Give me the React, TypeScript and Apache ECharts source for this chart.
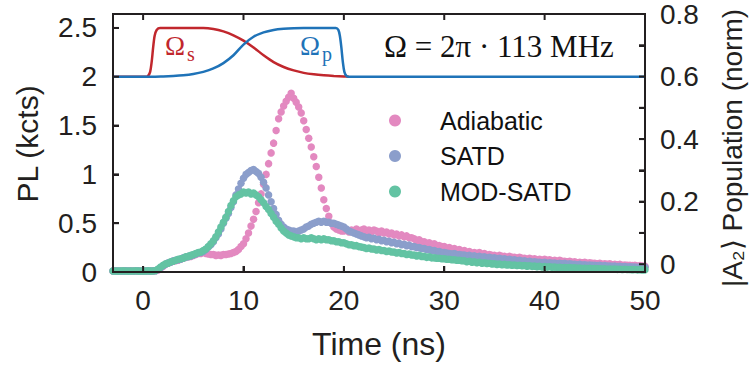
import React, { useEffect, useRef } from "react";
import * as echarts from "echarts";

// sampling grid of the measured traces (ns)
const TIME_START = -3;
const TIME_STEP = 0.25;

// PL traces (kcts), one value per sample, t = -3 ... 50 ns
const ADIABATIC = [
  0.01, 0.012, 0.008, 0.01, 0.011, 0.009, 0.01, 0.012, 0.01, 0.008, 0.01, 0.011, 0.009, 0.01, 0.012, 0.01, 0.011, 0.013, 0.02, 0.04,
  0.06, 0.08, 0.09, 0.1, 0.11, 0.115, 0.12, 0.13, 0.14, 0.15, 0.155, 0.16, 0.17, 0.18, 0.19, 0.19, 0.2, 0.19, 0.185, 0.18,
  0.18, 0.17, 0.175, 0.17, 0.18, 0.18, 0.185, 0.19, 0.2, 0.21, 0.23, 0.26, 0.29, 0.34, 0.4, 0.47, 0.54, 0.62, 0.71, 0.8,
  0.9, 1.0, 1.11, 1.22, 1.32, 1.45, 1.57, 1.64, 1.7, 1.75, 1.79, 1.83, 1.78, 1.74, 1.69, 1.63, 1.55, 1.46, 1.37, 1.28,
  1.18, 1.08, 0.97, 0.86, 0.74, 0.65, 0.57, 0.5, 0.46, 0.44, 0.43, 0.42, 0.42, 0.43, 0.41, 0.43, 0.42, 0.44, 0.42, 0.43,
  0.44, 0.42, 0.43, 0.41, 0.43, 0.42, 0.4, 0.42, 0.4, 0.41, 0.39, 0.4, 0.38, 0.39, 0.37, 0.38, 0.36, 0.37, 0.35, 0.35,
  0.34, 0.32, 0.33, 0.31, 0.31, 0.29, 0.3, 0.28, 0.29, 0.27, 0.27, 0.26, 0.26, 0.24, 0.25, 0.23, 0.24, 0.22, 0.23, 0.21,
  0.22, 0.2, 0.21, 0.19, 0.2, 0.19, 0.2, 0.18, 0.19, 0.17, 0.18, 0.17, 0.17, 0.16, 0.17, 0.16, 0.16, 0.15, 0.16, 0.15,
  0.15, 0.14, 0.15, 0.14, 0.14, 0.13, 0.14, 0.13, 0.135, 0.125, 0.13, 0.12, 0.13, 0.12, 0.125, 0.115, 0.12, 0.11, 0.12, 0.11,
  0.11, 0.105, 0.11, 0.1, 0.105, 0.095, 0.1, 0.095, 0.1, 0.09, 0.095, 0.09, 0.09, 0.085, 0.09, 0.08, 0.085, 0.08, 0.085, 0.075,
  0.08, 0.075, 0.078, 0.07, 0.072, 0.068, 0.07, 0.065, 0.068, 0.062, 0.065, 0.06, 0.06,
];

const SATD = [
  0.01, 0.009, 0.011, 0.01, 0.008, 0.012, 0.01, 0.009, 0.011, 0.01, 0.012, 0.008, 0.01, 0.011, 0.009, 0.01, 0.012, 0.014, 0.025, 0.045,
  0.065, 0.08, 0.095, 0.1, 0.115, 0.12, 0.125, 0.13, 0.145, 0.15, 0.16, 0.165, 0.175, 0.185, 0.195, 0.2, 0.21, 0.23, 0.255, 0.28,
  0.31, 0.35, 0.39, 0.44, 0.5, 0.55, 0.6, 0.66, 0.72, 0.79, 0.85, 0.91, 0.96, 1.0, 1.02, 1.04, 1.05, 1.03, 1.01, 0.97,
  0.92, 0.86, 0.79, 0.72, 0.65, 0.59, 0.53, 0.49, 0.46, 0.44, 0.43, 0.42, 0.42, 0.41, 0.42, 0.43, 0.44, 0.46, 0.47, 0.49,
  0.5, 0.51, 0.52, 0.51, 0.52, 0.51, 0.51, 0.5, 0.5, 0.49, 0.48, 0.47, 0.46, 0.44, 0.42, 0.41, 0.4, 0.39, 0.38, 0.37,
  0.36, 0.35, 0.355, 0.34, 0.345, 0.33, 0.335, 0.32, 0.325, 0.31, 0.315, 0.3, 0.305, 0.29, 0.295, 0.28, 0.285, 0.27, 0.275, 0.26,
  0.26, 0.25, 0.25, 0.24, 0.24, 0.23, 0.23, 0.22, 0.22, 0.21, 0.21, 0.2, 0.2, 0.195, 0.19, 0.185, 0.19, 0.18, 0.18, 0.175,
  0.175, 0.165, 0.17, 0.16, 0.165, 0.155, 0.16, 0.15, 0.155, 0.145, 0.15, 0.14, 0.145, 0.135, 0.14, 0.13, 0.135, 0.125, 0.13, 0.12,
  0.125, 0.115, 0.12, 0.11, 0.115, 0.105, 0.11, 0.1, 0.105, 0.1, 0.1, 0.095, 0.1, 0.09, 0.095, 0.088, 0.092, 0.085, 0.09, 0.083,
  0.088, 0.08, 0.085, 0.078, 0.08, 0.075, 0.078, 0.072, 0.075, 0.07, 0.072, 0.068, 0.07, 0.065, 0.068, 0.062, 0.065, 0.06, 0.062, 0.058,
  0.06, 0.056, 0.058, 0.054, 0.056, 0.052, 0.054, 0.05, 0.052, 0.048, 0.05, 0.047, 0.048,
];

const MOD_SATD = [
  0.01, 0.011, 0.009, 0.01, 0.012, 0.01, 0.009, 0.011, 0.01, 0.012, 0.009, 0.01, 0.011, 0.01, 0.012, 0.009, 0.011, 0.015, 0.03, 0.05,
  0.07, 0.085, 0.09, 0.105, 0.11, 0.12, 0.13, 0.135, 0.14, 0.155, 0.16, 0.17, 0.18, 0.19, 0.2, 0.205, 0.22, 0.235, 0.26, 0.29,
  0.32, 0.36, 0.41, 0.46, 0.51, 0.56, 0.62, 0.68, 0.73, 0.77, 0.79, 0.8, 0.82, 0.81, 0.82, 0.8, 0.81, 0.79, 0.77, 0.74,
  0.71, 0.67, 0.64, 0.6, 0.56, 0.52, 0.49, 0.45, 0.42, 0.4, 0.38, 0.37, 0.36, 0.35, 0.35, 0.34, 0.35, 0.34, 0.34, 0.35,
  0.34, 0.33, 0.34, 0.33, 0.34, 0.33, 0.33, 0.32, 0.32, 0.31, 0.31, 0.3, 0.3, 0.29, 0.28, 0.28, 0.27, 0.27, 0.26, 0.255,
  0.25, 0.24, 0.245, 0.235, 0.235, 0.225, 0.23, 0.22, 0.22, 0.21, 0.215, 0.205, 0.205, 0.195, 0.2, 0.19, 0.19, 0.18, 0.185, 0.175,
  0.175, 0.165, 0.17, 0.16, 0.16, 0.15, 0.155, 0.145, 0.145, 0.14, 0.14, 0.135, 0.135, 0.13, 0.13, 0.125, 0.125, 0.12, 0.12, 0.115,
  0.115, 0.105, 0.11, 0.1, 0.105, 0.095, 0.1, 0.09, 0.095, 0.088, 0.09, 0.083, 0.085, 0.078, 0.082, 0.075, 0.078, 0.072, 0.075, 0.07,
  0.072, 0.066, 0.07, 0.064, 0.066, 0.06, 0.064, 0.058, 0.06, 0.055, 0.058, 0.052, 0.055, 0.05, 0.053, 0.048, 0.05, 0.046, 0.048, 0.044,
  0.046, 0.042, 0.045, 0.04, 0.043, 0.038, 0.04, 0.036, 0.039, 0.035, 0.037, 0.033, 0.035, 0.032, 0.034, 0.03, 0.032, 0.029, 0.031, 0.028,
  0.03, 0.027, 0.029, 0.026, 0.028, 0.025, 0.026, 0.024, 0.025, 0.022, 0.024, 0.021, 0.022,
];

// pulse envelopes drawn in the inset (on the PL scale, baseline 2)
const STOKES_T = [-3, 0.3, 0.5, 0.7, 0.85, 1.0, 1.15, 1.35, 1.7, 6, 7, 8, 9, 10, 11, 12, 13, 14, 15, 16, 17, 18, 19, 20, 20.5];
const STOKES_V = [2.0, 2.0, 2.01, 2.05, 2.15, 2.3, 2.42, 2.48, 2.5, 2.5, 2.49, 2.465, 2.425, 2.37, 2.3, 2.22, 2.15, 2.1, 2.065, 2.04, 2.025, 2.015, 2.008, 2.003, 2.0];
const PUMP_T = [-3, 0, 2, 3, 4, 5, 6, 7, 8, 9, 10, 11, 12, 13, 14, 15, 16, 19.2, 19.45, 19.6, 19.75, 19.9, 20.05, 20.25, 20.5, 50];
const PUMP_V = [2.0, 2.0, 2.004, 2.008, 2.015, 2.028, 2.05, 2.085, 2.14, 2.22, 2.33, 2.41, 2.455, 2.48, 2.492, 2.498, 2.5, 2.5, 2.48, 2.42, 2.3, 2.15, 2.05, 2.01, 2.0, 2.0];

const X_MIN = -3;
const X_MAX = 50;
const PL_MIN = 0;
const PL_MAX = 2.643;
const POP_MIN = -0.025;
const POP_MAX = 0.8;

const X_TICKS = [0, 10, 20, 30, 40, 50];
const PL_TICKS = [0, 0.5, 1, 1.5, 2, 2.5];
const POP_TICKS = [0, 0.1, 0.2, 0.3, 0.4, 0.5, 0.6, 0.7, 0.8];
const POP_LABELS = [0, 0.2, 0.4, 0.6, 0.8];

const SERIES_NAMES = ["Adiabatic", "SATD", "MOD-SATD"];
const SERIES_COLORS = ["#e389c0", "#8b9ecb", "#63c3a3"];

const INK = "#231f20";
const RED = "#c1272d";
const BLUE = "#1f73b8";
const SANS = "'Liberation Sans', Arial, sans-serif";
const SERIF = "'Liberation Serif', 'Times New Roman', serif";

// layout of the plotting box (px)
const CHART_W = 749;
const CHART_H = 372;
const GRID = { left: 113, right: 104, top: 14, bottom: 100 };
const TICK_PX = 6;
const EDGE_PX = 2;

function toPairs(values: number[]) {
  return values.map((v, i) => [TIME_START + i * TIME_STEP, v]);
}

export default function App() {
  const ref = useRef<HTMLDivElement>(null);

  useEffect(() => {
    if (!ref.current) return;
    const chart = echarts.init(ref.current, undefined, { renderer: "svg" });

    const plotW = CHART_W - GRID.left - GRID.right;
    const plotH = CHART_H - GRID.top - GRID.bottom;
    const xMid = (X_MIN + X_MAX) / 2;
    const plMid = (PL_MIN + PL_MAX) / 2;

    // frame edges and inward ticks drawn as rectangular symbols anchored on axis values
    const frameItems: any[] = [
      { value: [xMid, PL_MIN], symbolSize: [plotW + EDGE_PX, EDGE_PX] },
      { value: [xMid, PL_MAX], symbolSize: [plotW + EDGE_PX, EDGE_PX] },
      { value: [X_MIN, plMid], symbolSize: [EDGE_PX, plotH + EDGE_PX] },
      { value: [X_MAX, plMid], symbolSize: [EDGE_PX, plotH + EDGE_PX] },
    ];
    X_TICKS.forEach((v) => {
      frameItems.push({ value: [v, PL_MIN], symbolSize: [EDGE_PX, TICK_PX], symbolOffset: [0, -TICK_PX / 2] });
      frameItems.push({ value: [v, PL_MAX], symbolSize: [EDGE_PX, TICK_PX], symbolOffset: [0, TICK_PX / 2] });
    });
    PL_TICKS.forEach((v) => {
      frameItems.push({ value: [X_MIN, v], symbolSize: [TICK_PX, EDGE_PX], symbolOffset: [TICK_PX / 2, 0] });
    });
    const rightTickItems = POP_TICKS.map((v) => ({
      value: [X_MAX, v],
      symbolSize: [TICK_PX, EDGE_PX],
      symbolOffset: [-TICK_PX / 2, 0],
    }));

    const frameSeries = [
      {
        type: "scatter",
        name: "frame",
        xAxisIndex: 0,
        yAxisIndex: 0,
        data: frameItems,
        symbol: "rect",
        clip: false,
        itemStyle: { color: INK, opacity: 1 },
        z: 20,
        emphasis: { disabled: true },
      },
      {
        type: "scatter",
        name: "frameRight",
        xAxisIndex: 0,
        yAxisIndex: 1,
        data: rightTickItems,
        symbol: "rect",
        clip: false,
        itemStyle: { color: INK, opacity: 1 },
        z: 20,
        emphasis: { disabled: true },
      },
    ];

    const traces = [ADIABATIC, SATD, MOD_SATD].map((vals, k) => ({
      type: "scatter",
      name: SERIES_NAMES[k],
      xAxisIndex: 0,
      yAxisIndex: 0,
      data: toPairs(vals),
      symbol: "circle",
      symbolSize: 7.5,
      itemStyle: { color: SERIES_COLORS[k], opacity: 1 },
      z: 2 + k,
    }));

    const axLine = () => ({ show: true, onZero: false, lineStyle: { color: INK, width: 2 } });
    const axTick = (vals: number[]) => ({
      show: true,
      inside: true,
      length: TICK_PX,
      customValues: vals,
      lineStyle: { color: INK, width: 2 },
    });

    const option: any = {
      animation: false,
      backgroundColor: "#ffffff",
      grid: GRID,
      xAxis: [
        {
          type: "value",
          position: "bottom",
          min: X_MIN,
          max: X_MAX,
          axisLine: axLine(),
          axisTick: axTick(X_TICKS),
          axisLabel: {
            customValues: X_TICKS,
            fontSize: 28,
            fontFamily: SANS,
            color: INK,
            margin: 14,
          },
          splitLine: { show: false },
          name: "Time (ns)",
          nameLocation: "middle",
          nameGap: 56,
          nameTextStyle: { fontSize: 32, fontFamily: SANS, color: INK },
        },
      ],
      yAxis: [
        {
          type: "value",
          position: "left",
          min: PL_MIN,
          max: PL_MAX,
          axisLine: axLine(),
          axisTick: axTick(PL_TICKS),
          axisLabel: {
            customValues: PL_TICKS,
            fontSize: 28,
            fontFamily: SANS,
            color: INK,
            margin: 16,
          },
          splitLine: { show: false },
        },
        {
          type: "value",
          position: "right",
          min: POP_MIN,
          max: POP_MAX,
          axisLine: axLine(),
          axisTick: axTick(POP_TICKS),
          axisLabel: {
            customValues: POP_LABELS,
            fontSize: 28,
            fontFamily: SANS,
            color: INK,
            margin: 15,
          },
          splitLine: { show: false },
        },
      ],
      legend: {
        orient: "vertical",
        left: 389,
        top: 108,
        itemWidth: 12,
        itemHeight: 12,
        itemGap: 10.5,
        icon: "circle",
        padding: 0,
        data: SERIES_NAMES,
        textStyle: {
          fontSize: 25,
          lineHeight: 25,
          fontFamily: SANS,
          color: "#111",
          padding: [0, 0, 0, 34],
        },
      },
      graphic: [
        {
          type: "text",
          x: 27,
          y: 144,
          rotation: Math.PI / 2,
          style: { text: "PL (kcts)", fontSize: 30, fontFamily: SANS, fill: INK, align: "center", verticalAlign: "middle" },
        },
        {
          type: "text",
          x: 732,
          y: 148,
          rotation: Math.PI / 2,
          style: {
            text: "|A\u2082\u27E9 Population (norm)",
            fontSize: 28,
            fontFamily: SANS,
            fill: INK,
            align: "center",
            verticalAlign: "middle",
          },
        },
        { type: "text", left: 165, top: 32, style: { text: "\u03A9", fontSize: 27, fontFamily: SERIF, fill: RED } },
        { type: "text", left: 187, top: 44, style: { text: "s", fontSize: 20, fontFamily: SERIF, fill: RED } },
        { type: "text", left: 300, top: 32, style: { text: "\u03A9", fontSize: 27, fontFamily: SERIF, fill: BLUE } },
        { type: "text", left: 322, top: 44, style: { text: "p", fontSize: 20, fontFamily: SERIF, fill: BLUE } },
        {
          type: "text",
          left: 384,
          top: 31,
          style: { text: "\u03A9 = 2\u03C0 \u00B7 113 MHz", fontSize: 31, fontFamily: SERIF, fill: "#111" },
        },
      ],
      series: [
        ...traces,
        {
          type: "line",
          name: "\u03A9s",
          xAxisIndex: 0,
          yAxisIndex: 0,
          data: STOKES_T.map((t, i) => [t, STOKES_V[i]]),
          showSymbol: false,
          smooth: 0.3,
          lineStyle: { color: RED, width: 2.5 },
          z: 6,
        },
        {
          type: "line",
          name: "\u03A9p",
          xAxisIndex: 0,
          yAxisIndex: 0,
          data: PUMP_T.map((t, i) => [t, PUMP_V[i]]),
          showSymbol: false,
          smooth: 0.3,
          lineStyle: { color: BLUE, width: 2.5 },
          z: 7,
        },
        ...frameSeries,
      ],
    };

    chart.setOption(option);
    return () => chart.dispose();
  }, []);

  return (
    <div
      ref={ref}
      style={{ position: "fixed", left: 0, top: 0, width: CHART_W, height: CHART_H, background: "#fff" }}
    />
  );
}
